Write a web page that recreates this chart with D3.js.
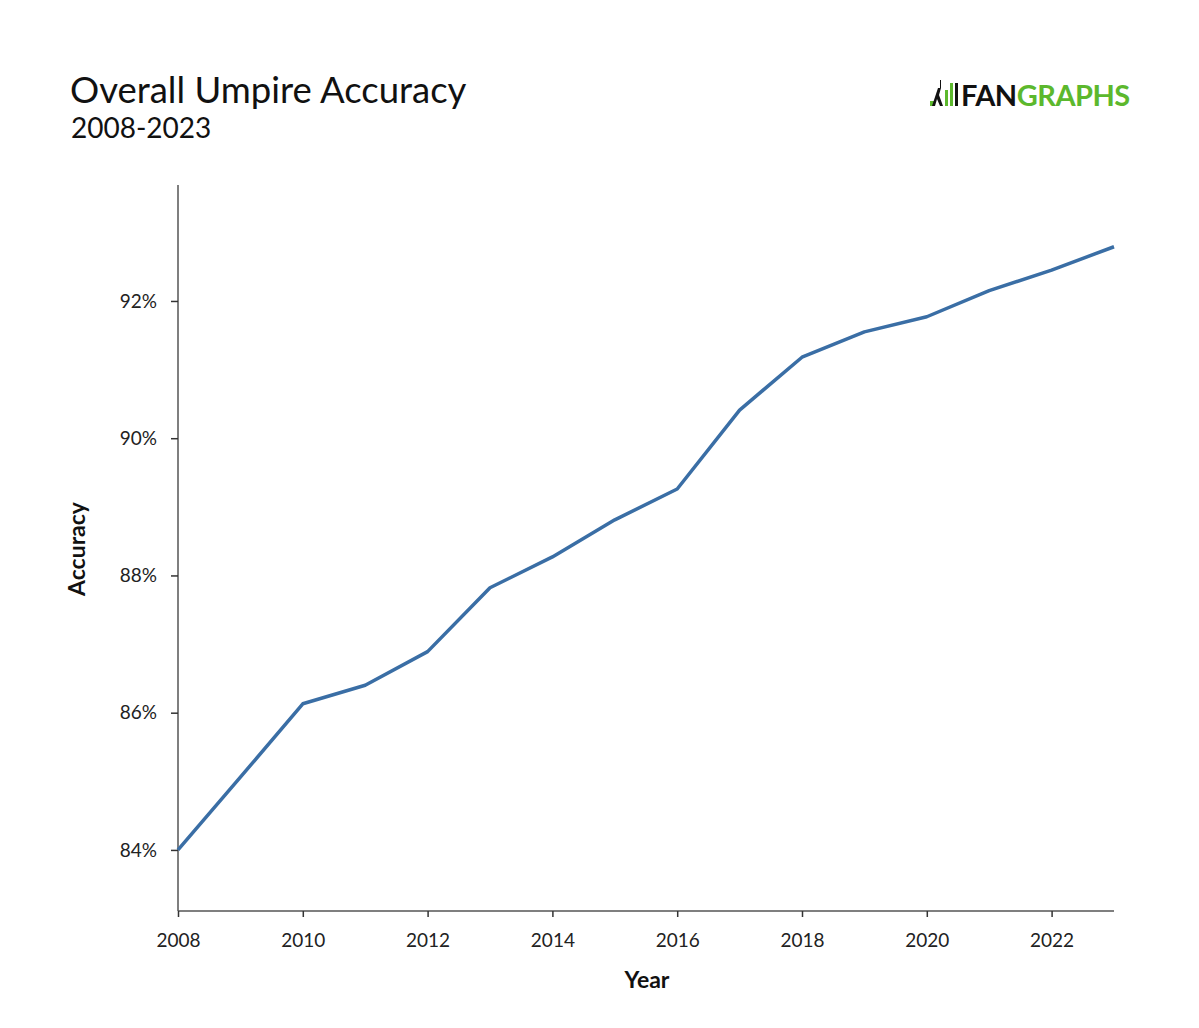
<!DOCTYPE html>
<html>
<head>
<meta charset="utf-8">
<script src="https://cdn.jsdelivr.net/npm/d3@7"></script>
<style>
  body { margin: 0; background: #fff; }
  text { font-family: Lato, "Open Sans", sans-serif; }
</style>
</head>
<body>
<svg id="chart" width="1199" height="1028"></svg>
<script>
const years = [2008, 2009, 2010, 2011, 2012, 2013, 2014, 2015, 2016, 2017, 2018, 2019, 2020, 2021, 2022, 2023];
const accuracy = [84.00, 85.06, 86.13, 86.40, 86.89, 87.82, 88.27, 88.81, 89.26, 90.41, 91.18, 91.55, 91.77, 92.15, 92.45, 92.79];
const xTicks = [2008, 2010, 2012, 2014, 2016, 2018, 2020, 2022];
const yTicks = [84, 86, 88, 90, 92];
const title = "Overall Umpire Accuracy";
const subtitle = "2008-2023";

(function () {
const svg = d3.select("#chart");
const mLeft = 178, mRight = 1114, mTop = 185, mBottom = 911;

const x = d3.scaleLinear().domain([2008, 2023]).range([mLeft, mRight]);
const y = d3.scaleLinear().domain([83.11, 93.69]).range([mBottom, mTop]);

svg.append("text").attr("x", 70).attr("y", 103).attr("font-size", 36.5).attr("fill", "#111").text(title);
svg.append("text").attr("x", 71).attr("y", 138).attr("font-size", 28).attr("fill", "#111").text(subtitle);

// Logo
const logo = svg.append("g").attr("transform", "translate(929,80)");
logo.append("rect").attr("x", 1).attr("y", 21).attr("width", 4).attr("height", 5).attr("fill", "#5cb82d");
logo.append("path").attr("d", "M9 8 L12 8 L10 15 L14 26 L11 26 L8 19 L6 26 L3 26 Z M11 0 L12 0 L12 8 L11 8 Z").attr("fill", "#111");
logo.append("rect").attr("x", 16).attr("y", 10).attr("width", 3).attr("height", 16).attr("fill", "#5cb82d");
logo.append("rect").attr("x", 21).attr("y", 3).attr("width", 3).attr("height", 23).attr("fill", "#5cb82d");
logo.append("rect").attr("x", 26).attr("y", 3).attr("width", 3).attr("height", 23).attr("fill", "#111");
const lt = logo.append("text").attr("x", 32).attr("y", 26).attr("font-size", 29).attr("font-weight", 700)
  .attr("font-family", "'Liberation Sans', Arial, sans-serif").attr("letter-spacing", -0.5);
lt.append("tspan").attr("fill", "#111").text("FAN");
lt.append("tspan").attr("fill", "#5cb82d").text("GRAPHS");

// Axes
const axisColor = "#555";
const xAxis = d3.axisBottom(x).tickValues(xTicks).tickFormat(d3.format("d")).tickSizeOuter(0).tickSize(6).tickPadding(17);
const gx = svg.append("g").attr("transform", `translate(0,${mBottom})`).call(xAxis);
gx.select(".domain").attr("stroke", axisColor).attr("stroke-width", 1.5).attr("d", `M${mLeft},0H${mRight}`);
gx.selectAll(".tick line").attr("stroke", "#333").attr("stroke-width", 1.5);
gx.selectAll(".tick text").attr("font-size", 19).attr("fill", "#222").attr("font-family", "Lato, sans-serif");

const yAxis = d3.axisLeft(y).tickValues(yTicks).tickFormat(d => d + "%").tickSizeOuter(0).tickSize(7).tickPadding(14);
const gy = svg.append("g").attr("transform", `translate(${mLeft},0)`).call(yAxis);
gy.select(".domain").attr("stroke", axisColor).attr("stroke-width", 1.5).attr("d", `M0,${mTop}V${mBottom}`);
gy.selectAll(".tick line").attr("stroke", "#333").attr("stroke-width", 1.5);
gy.selectAll(".tick text").attr("font-size", 19).attr("fill", "#222").attr("font-family", "Lato, sans-serif");

svg.append("text").attr("transform", `translate(85,549) rotate(-90)`)
  .attr("text-anchor", "middle").attr("font-size", 23).attr("font-weight", 700).attr("fill", "#111").text("Accuracy");
svg.append("text").attr("x", 647).attr("y", 988).attr("text-anchor", "middle")
  .attr("font-size", 23).attr("font-weight", 700).attr("fill", "#111").text("Year");

const data = years.map((yr, i) => ({ yr, v: accuracy[i] }));
svg.append("path").datum(data)
  .attr("fill", "none").attr("stroke", "#3a6ea5").attr("stroke-width", 3.5).attr("stroke-linejoin", "round")
  .attr("d", d3.line().x(d => x(d.yr)).y(d => y(d.v)));
})();
</script>
</body>
</html>
